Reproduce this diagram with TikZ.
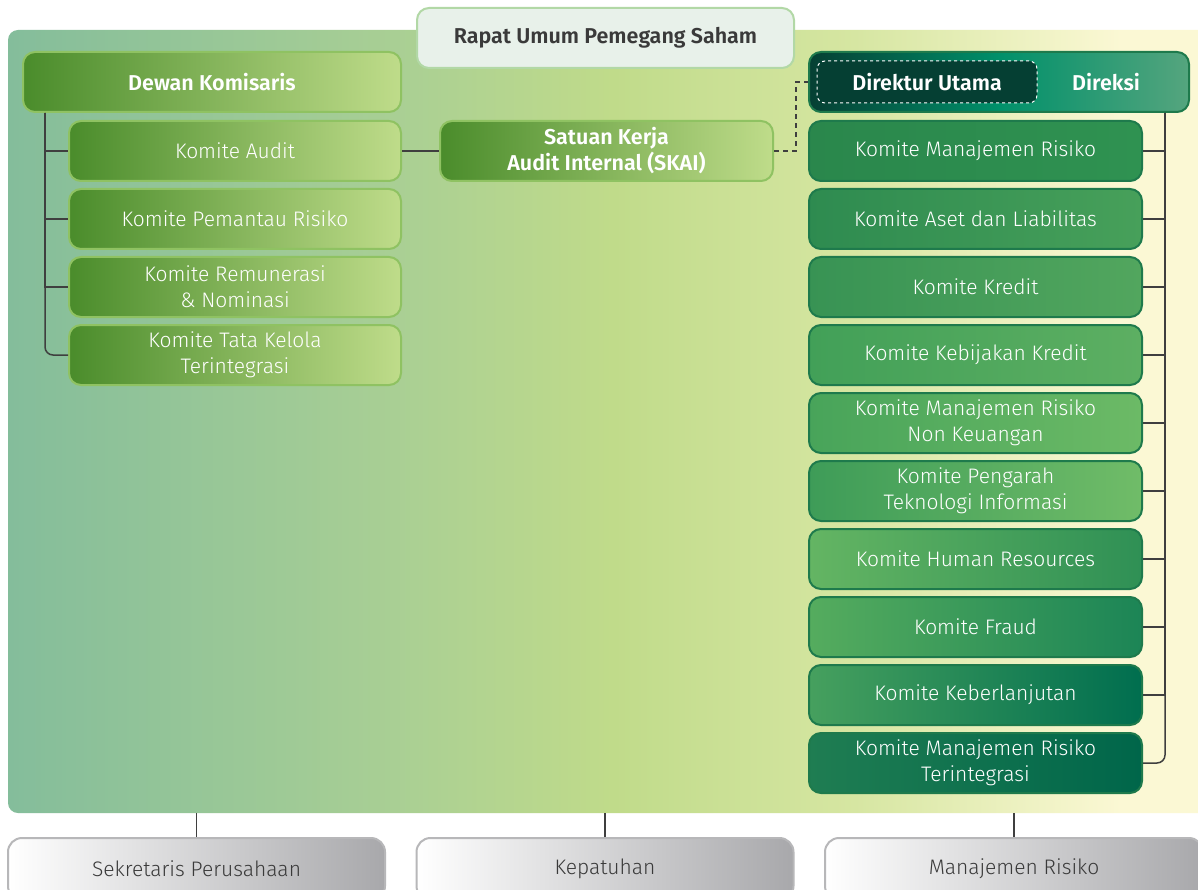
\documentclass[tikz,border=0pt]{standalone}
\usepackage{fontspec}
\setmainfont{Fira Sans}[UprightFont=* Light, BoldFont=* SemiBold]
\usetikzlibrary{calc}
\definecolor{bgA}{HTML}{84BD9B}
\definecolor{bgB}{HTML}{A9CF94}
\definecolor{bgC}{HTML}{C0DB8A}
\definecolor{bgD}{HTML}{D6E6A2}
\definecolor{bgE}{HTML}{FBF8D4}
\pgfdeclarehorizontalshading{bgshade}{100bp}{color(0bp)=(bgA); color(25bp)=(bgA); color(41bp)=(bgB); color(50bp)=(bgC); color(60bp)=(bgD); color(71bp)=(bgE); color(100bp)=(bgE)}
\definecolor{lgL}{HTML}{4A8C2B}
\definecolor{lgR}{HTML}{BFDC8A}
\definecolor{lgBorder}{HTML}{8FC262}
\definecolor{dgBorder}{HTML}{1E7A4C}
\definecolor{lineC}{HTML}{3F3F3F}
\definecolor{txtD}{HTML}{3A3A3A}
\definecolor{dirL}{HTML}{053F33}
\definecolor{dirM}{HTML}{00906A}
\definecolor{dirR}{HTML}{55A57E}
\definecolor{grayR}{HTML}{A8A8AB}
\definecolor{grayB}{HTML}{B7B7B9}
\definecolor{rupsF}{HTML}{E8F1EA}
\definecolor{rupsB}{HTML}{B2D8A6}
\definecolor{rAL}{HTML}{2A874C}\definecolor{rAR}{HTML}{2F9251}
\definecolor{rBL}{HTML}{2E8B50}\definecolor{rBR}{HTML}{47A05A}
\definecolor{rCL}{HTML}{389354}\definecolor{rCR}{HTML}{52A65E}
\definecolor{rDL}{HTML}{42A058}\definecolor{rDR}{HTML}{5DAF62}
\definecolor{rEL}{HTML}{48A45A}\definecolor{rER}{HTML}{6CBA66}
\definecolor{rFL}{HTML}{3E9C58}\definecolor{rFR}{HTML}{70BC68}
\definecolor{rGL}{HTML}{64B563}\definecolor{rGR}{HTML}{2F9055}
\definecolor{rHL}{HTML}{55AC5E}\definecolor{rHR}{HTML}{1C8556}
\definecolor{rIL}{HTML}{46A05E}\definecolor{rIR}{HTML}{006E4F}
\definecolor{rJL}{HTML}{1F7D52}\definecolor{rJR}{HTML}{00664A}
\tikzset{
  box/.style={rounded corners=12pt, minimum height=60pt, inner sep=0pt, align=center,
    text=white, font=\fontsize{21}{26}\selectfont, line width=2pt},
  lbox/.style={box, draw=lgBorder, left color=lgL, right color=lgR},
  rbox/.style={box, draw=dgBorder, minimum width=333pt},
  kbox/.style={lbox, minimum width=332pt},
  hbox/.style={font=\bfseries\fontsize{21.5}{26}\selectfont},
  gbox/.style={box, draw=grayB, left color=white, right color=grayR, text=txtD,
    minimum width=377pt, minimum height=62pt, rounded corners=14pt},
  conn/.style={draw=lineC, line width=1.5pt},
}
\begin{document}
\begin{tikzpicture}[x=1pt,y=-1pt]
\clip (0,0) rectangle (1198,890);
\fill[white] (0,0) rectangle (1198,890);
% background panel
\node (bg) [rounded corners=10pt, shading=bgshade, minimum width=1210pt, minimum height=783pt, inner sep=0pt] at (613,421.5) {};
% RUPS
\node (rups) [box, draw=rupsB, fill=rupsF, text=txtD, hbox, minimum width=377pt] at (605.5,38) {Rapat Umum Pemegang Saham};
% left column
\node (dk) [lbox, hbox, minimum width=378pt] at (212,82) {Dewan Komisaris};
\node (ka) [kbox] at (235,151) {Komite Audit};
\node (kp) [kbox] at (235,219) {Komite Pemantau Risiko};
\node (kr) [kbox] at (235,287) {Komite Remunerasi\\\& Nominasi};
\node (kt) [kbox] at (235,355) {Komite Tata Kelola\\Terintegrasi};
% SKAI
\node (skai) [lbox, hbox, minimum width=333pt] at (606.5,151) {Satuan Kerja\\Audit Internal (SKAI)};
% Direksi
\node (dir) [box, draw=dgBorder, minimum width=380pt, left color=dirL, right color=dirR, middle color=dirM] at (999,82) {};
\node (du) [box, hbox, draw=white, dashed, line width=1pt, fill=dirL, minimum width=220pt, minimum height=42pt, rounded corners=8pt] at (927,82) {Direktur Utama};
\node (dtx) [hbox, text=white] at (1106,82) {Direksi};
% right column
\node (r1) [rbox, left color=rAL, right color=rAR] at (975.5,151) {Komite Manajemen Risiko};
\node (r2) [rbox, left color=rBL, right color=rBR] at (975.5,219) {Komite Aset dan Liabilitas};
\node (r3) [rbox, left color=rCL, right color=rCR] at (975.5,287) {Komite Kredit};
\node (r4) [rbox, left color=rDL, right color=rDR] at (975.5,355) {Komite Kebijakan Kredit};
\node (r5) [rbox, left color=rEL, right color=rER] at (975.5,423) {Komite Manajemen Risiko\\Non Keuangan};
\node (r6) [rbox, left color=rFL, right color=rFR] at (975.5,491) {Komite Pengarah\\Teknologi Informasi};
\node (r7) [rbox, left color=rGL, right color=rGR] at (975.5,559) {Komite Human Resources};
\node (r8) [rbox, left color=rHL, right color=rHR] at (975.5,627) {Komite Fraud};
\node (r9) [rbox, left color=rIL, right color=rIR] at (975.5,695) {Komite Keberlanjutan};
\node (r10) [rbox, left color=rJL, right color=rJR] at (975.5,763) {Komite Manajemen Risiko\\Terintegrasi};
% bottom boxes
\node (sek) [gbox] at (196.5,869) {Sekretaris Perusahaan};
\node (kep) [gbox] at (605,869) {Kepatuhan};
\node (mr) [gbox, minimum width=378pt] at (1014,869) {Manajemen Risiko};
% connectors left
\coordinate (dkb) at ($(dk.south west)+(23,0)$);
\draw[conn] (dkb) |- (ka.west);
\draw[conn] (dkb) |- (kp.west);
\draw[conn] (dkb) |- (kr.west);
\draw[conn, rounded corners=8pt] (dkb) |- (kt.west);
\draw[conn] (ka.east) -- (skai.west);
% dashed SKAI - Direksi
\coordinate (dsh) at ($(skai.east)+(22,0)$);
\draw[draw=lineC, line width=1.2pt, dash pattern=on 5pt off 4pt] (skai.east) -- (dsh) |- (dir.west);
% connectors right
\coordinate (drb) at ($(dir.south east)+(-25,0)$);
\foreach \r in {r1,r2,r3,r4,r5,r6,r7,r8,r9} {\draw[conn] (drb) |- (\r.east);}
\draw[conn, rounded corners=8pt] (drb) |- (r10.east);
% bottom connectors
\draw[conn] (sek.north) -- (sek.north |- bg.south);
\draw[conn] (kep.north) -- (kep.north |- bg.south);
\draw[conn] (mr.north) -- (mr.north |- bg.south);
\end{tikzpicture}
\end{document}
